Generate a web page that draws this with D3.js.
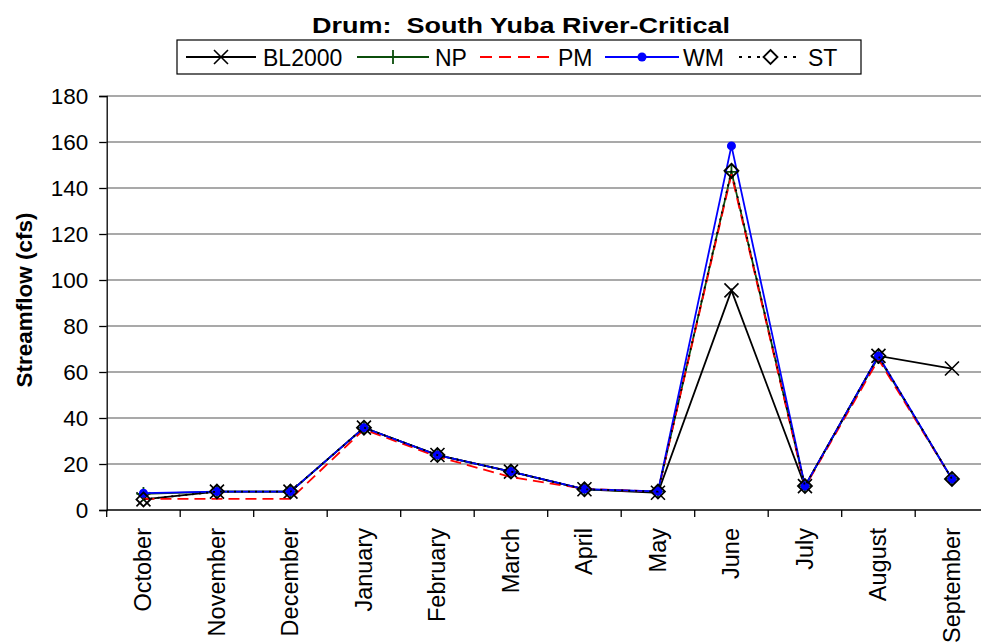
<!DOCTYPE html>
<html><head><meta charset="utf-8">
<script src="https://cdn.jsdelivr.net/npm/d3@7"></script>
<style>body{margin:0;background:#fff}svg{display:block;font-family:"Liberation Sans",Arial,sans-serif}</style>
</head><body><svg id="c" width="981" height="643"></svg>
<script>
const months = ["October","November","December","January","February","March","April","May","June","July","August","September"];
const yTicks = [0,20,40,60,80,100,120,140,160,180];
const BL2000 = [4.6, 8, 8, 35.8, 23.9, 16.7, 9, 7.5, 95.5, 10.4, 67, 61.5];
const NP     = [7.0, 8, 8, 35.8, 23.9, 16.7, 9, 8, 147, 10.4, 66.5, 13.5];
const PM     = [4.8, 4.8, 4.8, 35, 23.2, 14.3, 9.2, 8, 146, 10, 65.5, 13.5];
const WM     = [7.3, 8, 8, 35.8, 23.9, 16.7, 9.1, 8.1, 158.3, 10.4, 67, 13.5];
const ST     = [4.6, 8, 8, 35.8, 23.9, 16.7, 9, 8, 147.5, 10.4, 67, 13.5];
const seriesNames = ["BL2000","NP","PM","WM","ST"];

const series = [
  {name:"BL2000", data:BL2000, color:"#000", dash:null, ldash:null, marker:"x"},
  {name:"NP", data:NP, color:"#0b4d0b", dash:null, ldash:null, marker:"plus"},
  {name:"PM", data:PM, color:"#ff0000", dash:"11,6", ldash:"12,7", marker:null},
  {name:"WM", data:WM, color:"#0000ff", dash:null, ldash:null, marker:"dot"},
  {name:"ST", data:ST, color:"#000", dash:"2,5", ldash:"3,6", marker:"diamond"}
];

const svg = d3.select("#c");
const L = 106.7, R = 988.7, T = 96, B = 510;
const x = d3.scaleBand().domain(months).range([L, R]);
const y = d3.scaleLinear().domain([0,180]).range([B, T]);

// gridlines
svg.append("g").selectAll("line").data(yTicks.filter(d=>d>0)).join("line")
  .attr("x1", L).attr("x2", R).attr("y1", d=>y(d)).attr("y2", d=>y(d))
  .attr("stroke", "#555").attr("stroke-width", 1.2);

// y axis
const ya = svg.append("g").attr("transform", `translate(${L},0)`)
  .call(d3.axisLeft(y).tickValues(yTicks).tickSize(7.5).tickPadding(11));
ya.select(".domain").attr("stroke","#000").attr("stroke-width",1.3);
ya.selectAll(".tick line").attr("stroke","#000").attr("stroke-width",1.3);
ya.selectAll("text").attr("font-size", 22.5).attr("fill","#000").attr("font-family","Liberation Sans, Arial");

// x axis
svg.append("line").attr("x1", L).attr("x2", R).attr("y1", B).attr("y2", B).attr("stroke","#000").attr("stroke-width",1.3);
const bounds = months.map(m=>x(m)).concat([x.range()[1]]);
svg.append("g").selectAll("line").data(bounds).join("line")
  .attr("x1", d=>d).attr("x2", d=>d).attr("y1", B).attr("y2", B+7).attr("stroke","#000").attr("stroke-width",1.3);
svg.append("g").selectAll("text").data(months).join("text")
  .attr("transform", d=>`translate(${x(d)+x.bandwidth()/2+8},${B+18}) rotate(-90)`)
  .attr("text-anchor","end").attr("font-size", 23.5).text(d=>d);

// y title
svg.append("text").attr("transform", `translate(32,${(T+B)/2 - 3}) rotate(-90)`)
  .attr("text-anchor","middle").attr("font-size", 22.5).attr("font-weight","bold").text("Streamflow (cfs)");

// title
svg.append("text").attr("x", 521).attr("y", 33).attr("text-anchor","middle")
  .attr("font-size", 21.5).attr("font-weight","bold").style("white-space","pre")
  .attr("textLength", 418).attr("lengthAdjust","spacingAndGlyphs")
  .text("Drum:  South Yuba River-Critical");

function drawMarker(g, type, cx, cy, color) {
  if (type === "x") {
    g.append("path").attr("d", `M${cx-7},${cy-7}L${cx+7},${cy+7}M${cx-7},${cy+7}L${cx+7},${cy-7}`)
      .attr("stroke", color).attr("stroke-width", 1.6).attr("fill","none");
  } else if (type === "plus") {
    g.append("path").attr("d", `M${cx-7},${cy}L${cx+7},${cy}M${cx},${cy-7}L${cx},${cy+7}`)
      .attr("stroke", color).attr("stroke-width", 1.8).attr("fill","none");
  } else if (type === "dot") {
    g.append("circle").attr("cx", cx).attr("cy", cy).attr("r", 4.5).attr("fill", color);
  } else if (type === "diamond") {
    g.append("path").attr("d", `M${cx},${cy-7}L${cx+7},${cy}L${cx},${cy+7}L${cx-7},${cy}Z`)
      .attr("stroke", "#000").attr("stroke-width", 1.8).attr("fill","none");
  }
}

const line = d3.line().x((d,i)=>x(months[i])+x.bandwidth()/2).y(d=>y(d));
series.forEach(s=>{
  const g = svg.append("g");
  g.append("path").attr("d", line(s.data)).attr("fill","none").attr("stroke", s.color)
    .attr("stroke-width", 1.8).attr("stroke-dasharray", s.dash);
  if (s.marker) s.data.forEach((v,i)=>drawMarker(g, s.marker, x(months[i])+x.bandwidth()/2, y(v), s.color));
});

// legend
const lg = svg.append("g");
lg.append("rect").attr("x",177).attr("y",40).attr("width",684).attr("height",34)
  .attr("fill","#fff").attr("stroke","#000").attr("stroke-width",1.2);
const legendX = [{l1:186,l2:256,t:263},{l1:357,l2:429,t:435},{l1:480,l2:552,t:558},{l1:605,l2:679,t:683},{l1:739,l2:802,t:808}];
series.forEach((s,i)=>{
  const p = legendX[i], cy = 57;
  const ll = lg.append("line").attr("x1",p.l1).attr("x2",p.l2).attr("y1",cy).attr("y2",cy)
    .attr("stroke", s.color).attr("stroke-width",1.8).attr("stroke-dasharray", s.ldash);
  if (s.marker) {
    const cx = (p.l1+p.l2)/2;
    if (s.marker === "diamond") lg.append("rect").attr("x",cx-8).attr("y",cy-8).attr("width",16).attr("height",16).attr("fill","#fff");
    drawMarker(lg, s.marker, cx, cy, s.color);
  }
  lg.append("text").attr("x", p.t).attr("y", cy+8.5).attr("font-size", 23).text(seriesNames[i]);
});
</script></body></html>
